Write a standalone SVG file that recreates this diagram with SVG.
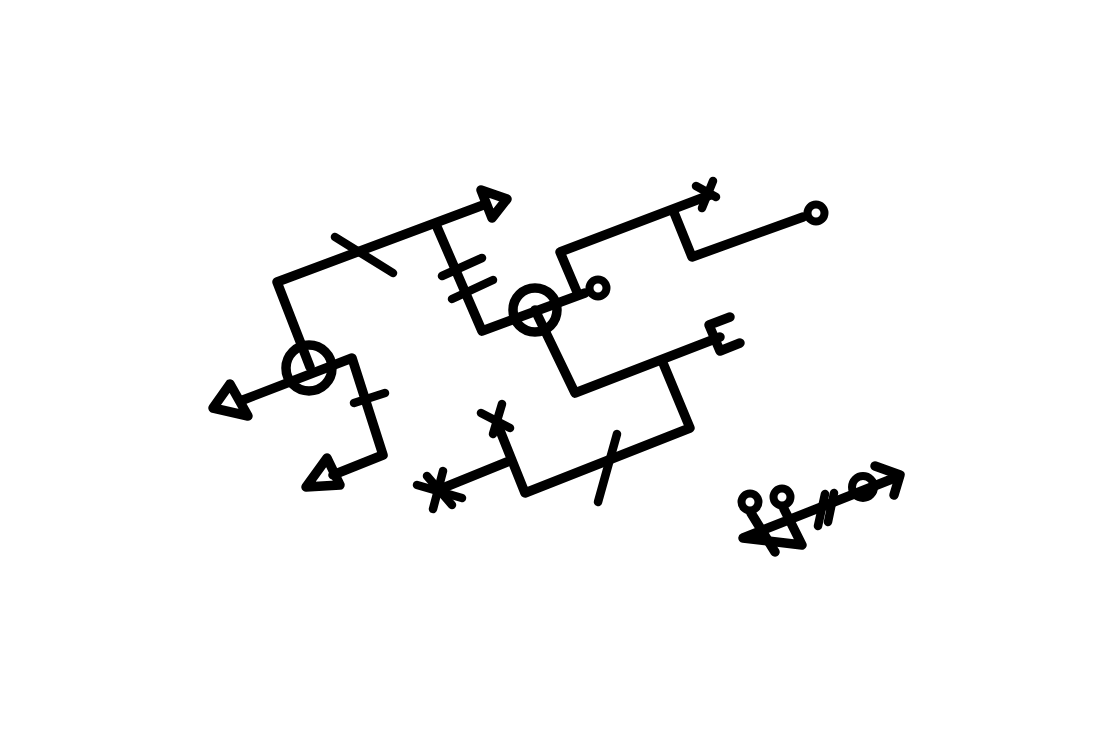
<svg xmlns="http://www.w3.org/2000/svg" width="1109" height="740" viewBox="0 0 1109 740">
<style>
.s{fill:none;stroke:#000;stroke-width:9.5;stroke-linecap:round;stroke-linejoin:round}
.t{fill:none;stroke:#000;stroke-width:8.5;stroke-linecap:round;stroke-linejoin:round}
.d{fill:none;stroke:#000;stroke-width:8;stroke-linecap:round;stroke-linejoin:round}
</style>
<rect width="1109" height="740" fill="#fff"/>
<g id="connectors" class="s">
<polyline points="310,367 277,282 486,204"/>
<polyline points="437,227 482,331 585,293"/>
<polyline points="243,400 352,358 383,455 333,475"/>
<polyline points="577,292 560,252 710,195"/>
<polyline points="673,210 692,257 803,217"/>
<polyline points="535,310 575,393 720,337"/>
<polyline points="663,363 690,428 525,493 497,423"/>
<line x1="507" y1="462" x2="438" y2="490"/>
<polyline points="751,513 775,552"/>
<polyline points="784,509 802,545 743,538 897,477"/>
</g>
<g id="circle-left" class="s"><circle cx="309" cy="368" r="23"/></g>
<g id="circle-mid" class="s"><circle cx="535" cy="310" r="22"/></g>
<g id="tri-top" class="s"><polygon points="481,190 507,199 492,218"/></g>
<g id="tri-left" class="s"><polygon points="230,384 213,408 248,416"/></g>
<g id="tri-bottom" class="s"><polygon points="327,458 306,487 340,485"/></g>
<g id="ticks" class="t">
<line x1="335" y1="237" x2="393" y2="273"/>
<line x1="442" y1="276" x2="482" y2="258"/>
<line x1="452" y1="299" x2="493" y2="280"/>
<line x1="354" y1="403" x2="385" y2="393"/>
<line x1="617" y1="434" x2="598" y2="502"/>
<line x1="818" y1="526" x2="825" y2="494"/>
<line x1="828" y1="522" x2="834" y2="493"/>
</g>
<g id="x-top" class="t">
<line x1="696" y1="186" x2="716" y2="197"/>
<line x1="713" y1="181" x2="702" y2="208"/>
</g>
<g id="x-bottom" class="t">
<line x1="481" y1="413" x2="510" y2="428"/>
<line x1="502" y1="404" x2="493" y2="434"/>
</g>
<g id="asterisk" class="t">
<line x1="417" y1="485" x2="462" y2="498"/>
<line x1="443" y1="471" x2="433" y2="509"/>
<line x1="427" y1="476" x2="452" y2="505"/>
</g>
<g id="dot-mid" class="d"><circle cx="598" cy="288" r="8.5"/></g>
<g id="dot-right" class="d"><circle cx="816" cy="213" r="8.5"/></g>
<g id="e-glyph" class="s"><polyline points="730,317 709,325 720,351 740,343"/></g>
<g id="dot-a" class="d"><circle cx="750" cy="502" r="8.5"/></g>
<g id="dot-b" class="d"><circle cx="782" cy="497" r="8.5"/></g>
<g id="circle-small" class="d"><circle cx="863" cy="487" r="11"/></g>
<g id="chevron" class="s"><polyline points="875,466 900,475 894,495"/></g>
</svg>
